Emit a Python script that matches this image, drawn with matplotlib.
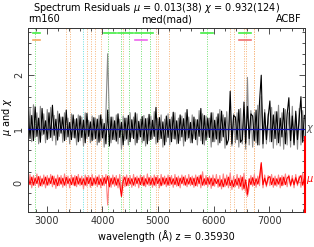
import numpy as np
import matplotlib
matplotlib.use('Agg')
import matplotlib.pyplot as plt
from matplotlib.ticker import MultipleLocator

plt.rcParams['font.family'] = ['DejaVu Sans']

# rest-frame wavelength grid (A)
wave = np.linspace(2670, 7630, 161)

chi = [1.32, 0.82, 1.25, 0.78, 1.41, 0.86, 1.20, 0.75, 1.38, 0.90,
       1.15, 0.80, 1.30, 0.84, 1.44, 0.88, 1.18, 0.79, 1.28, 0.92,
       1.22, 0.78, 1.35, 0.85, 1.12, 0.80, 1.26, 0.83, 1.19, 0.76,
       1.24, 0.84, 1.16, 0.74, 1.29, 0.86, 1.13, 0.78, 1.21, 0.82,
       1.18, 0.75, 1.26, 0.83, 1.10, 0.72, 1.35, 0.68, 1.22, 0.80,
       1.15, 0.77, 1.28, 0.84, 1.12, 0.70, 1.20, 0.81, 1.25, 0.76,
       1.17, 0.82, 1.30, 0.74, 1.14, 0.85, 1.23, 0.78, 1.19, 0.72,
       1.27, 0.80, 1.16, 0.86, 1.40, 0.75, 1.21, 0.82, 1.13, 0.70,
       1.24, 0.84, 1.18, 0.76, 1.31, 0.81, 1.15, 0.73, 1.26, 0.85,
       1.19, 0.77, 1.36, 0.83, 1.12, 0.74, 1.22, 0.80, 1.17, 0.86,
       1.38, 0.72, 1.25, 0.79, 1.20, 0.84, 1.30, 0.76, 1.16, 0.81,
       1.28, 0.74, 1.33, 0.85, 1.21, 0.70, 0.80, 1.70, 0.72, 1.25,
       1.22, 0.80, 1.36, 0.75, 0.80, 1.50, 0.73, 1.42, 0.82, 1.28,
       1.24, 0.78, 1.35, 0.70, 1.50, 2.00, 0.72, 1.30, 0.80, 1.22,
       1.52, 0.76, 1.26, 0.82, 1.32, 0.74, 1.20, 0.85, 1.38, 0.72,
       1.27, 1.58, 0.78, 1.24, 0.70, 1.33, 0.80, 1.21, 1.60, 0.75, 1.25]

chi_all = [0.80, 1.38, 0.76, 1.45, 0.84, 1.30, 0.72, 1.42, 0.88, 1.28,
           0.74, 1.36, 0.82, 1.40, 0.78, 1.25, 0.70, 1.33, 0.86, 1.22,
           0.75, 1.30, 0.80, 1.20, 0.72, 1.28, 0.84, 1.18, 0.70, 1.26,
           0.78, 1.22, 0.68, 1.30, 0.82, 1.16, 0.74, 1.24, 0.80, 1.20,
           0.70, 1.25, 0.78, 1.18, 0.66, 1.30, 2.40, 1.15, 0.74, 1.22,
           0.80, 1.26, 0.72, 1.18, 0.62, 1.24, 0.78, 1.20, 0.70, 1.30,
           0.84, 1.22, 0.70, 1.28, 0.80, 1.18, 0.74, 1.25, 0.68, 1.20,
           0.78, 1.24, 0.82, 1.32, 0.72, 1.20, 0.80, 1.26, 0.66, 1.18,
           0.76, 1.28, 0.70, 1.22, 0.82, 1.30, 0.72, 1.20, 0.78, 1.24,
           0.68, 1.30, 0.80, 1.22, 0.74, 1.26, 0.82, 1.18, 0.70, 1.34,
           0.78, 1.28, 0.70, 1.24, 0.84, 1.20, 0.66, 1.30, 0.76, 1.22,
           0.70, 1.36, 0.78, 1.26, 0.64, 1.32, 0.80, 1.40, 0.68, 1.28,
           0.74, 1.30, 0.66, 1.38, 0.72, 1.26, 0.62, 1.96, 0.70, 1.34,
           0.66, 1.30, 0.74, 1.44, 0.70, 1.60, 0.64, 1.36, 0.72, 1.28,
           0.76, 1.40, 0.64, 1.32, 0.70, 1.44, 0.68, 1.30, 0.62, 1.36,
           0.70, 1.30, 0.66, 1.42, 0.74, 1.28, 0.62, 1.38, 0.70, 1.34, 0.76]

mu = [0.09, -0.04, 0.10, -0.05, 0.08, -0.02, 0.11, -0.06, 0.07, -0.03,
      0.10, -0.05, 0.08, -0.02, 0.12, -0.04, 0.07, -0.06, 0.09, -0.03,
      0.08, -0.05, 0.10, -0.02, 0.07, -0.04, 0.09, -0.06, 0.11, -0.03,
      0.08, -0.04, 0.07, -0.05, 0.10, -0.02, 0.09, -0.06, 0.08, -0.03,
      0.10, -0.04, 0.07, -0.05, 0.09, -0.02, 0.12, -0.08, 0.08, -0.03,
      0.09, -0.05, 0.07, -0.04, -0.26, 0.02, 0.10, -0.06, 0.08, -0.03,
      0.07, -0.05, 0.09, -0.02, 0.08, -0.04, 0.10, -0.06, 0.07, -0.03,
      0.09, -0.04, 0.08, -0.05, 0.10, -0.02, 0.07, -0.06, 0.09, -0.03,
      0.08, -0.05, 0.10, -0.03, 0.07, -0.04, 0.09, -0.06, 0.08, -0.02,
      0.10, -0.05, 0.07, -0.03, 0.09, -0.04, 0.08, -0.06, 0.10, -0.02,
      0.14, -0.05, 0.07, -0.04, 0.09, -0.03, 0.08, -0.06, 0.07, -0.02,
      0.06, -0.07, 0.05, -0.08, 0.07, -0.05, 0.10, -0.06, 0.04, -0.08,
      0.06, -0.05, 0.08, -0.07, 0.10, -0.12, 0.05, -0.22, 0.07, -0.04,
      0.09, -0.05, 0.07, -0.03, 0.10, 0.37, -0.04, 0.08, -0.05, 0.09,
      0.11, -0.04, 0.08, -0.05, 0.07, -0.03, 0.09, -0.06, 0.10, -0.04,
      0.08, 0.12, -0.05, 0.07, -0.04, 0.09, -0.03, 0.08, 0.13, -0.05, 0.07]

mu_all = [-0.08, 0.15, -0.10, 0.13, -0.06, 0.16, -0.09, 0.12, -0.07, 0.14,
          -0.10, 0.13, -0.05, 0.15, -0.08, 0.12, -0.11, 0.14, -0.06, 0.13,
          -0.09, 0.16, -0.07, 0.12, -0.10, 0.14, -0.05, 0.13, -0.08, 0.15,
          -0.06, 0.12, -0.12, 0.14, -0.07, 0.13, -0.09, 0.15, -0.05, 0.12,
          -0.08, 0.14, -0.10, 0.13, -0.06, 0.15, -0.42, 0.12, -0.09, 0.14,
          -0.07, 0.13, -0.10, 0.15, -0.18, 0.12, -0.08, 0.14, -0.06, 0.13,
          -0.09, 0.15, -0.07, 0.12, -0.10, 0.14, -0.05, 0.13, -0.08, 0.16,
          -0.06, 0.12, -0.09, 0.14, -0.07, 0.13, -0.10, 0.15, -0.05, 0.12,
          -0.08, 0.14, -0.06, 0.13, -0.09, 0.15, -0.07, 0.12, -0.10, 0.14,
          -0.05, 0.13, -0.08, 0.15, -0.06, 0.12, -0.09, 0.14, -0.07, 0.13,
          -0.10, 0.20, -0.06, 0.13, -0.08, 0.12, -0.11, 0.14, -0.07, 0.15,
          -0.09, 0.13, -0.12, 0.16, -0.08, 0.14, -0.10, 0.18, -0.13, 0.12,
          -0.08, 0.15, -0.11, 0.13, -0.14, 0.17, -0.16, -0.26, -0.10, 0.13,
          -0.07, 0.15, -0.09, 0.12, -0.06, 0.34, -0.10, 0.14, -0.08, 0.13,
          -0.06, 0.15, -0.09, 0.12, -0.07, 0.14, -0.10, 0.13, -0.05, 0.16,
          -0.08, 0.14, -0.07, 0.13, -0.10, 0.15, -0.06, 0.12, -0.09, 0.17, -0.08]

# emission line markers
green_lines = [2798, 4102, 4340, 4471, 4686, 4861, 5876]
orange_lines = [3346, 3426, 3727, 3798, 3869, 3968, 4363, 4959, 5007, 5200,
                6300, 6364, 6548, 6583, 6716, 6731]
cyan_lines = [3650]

# fitting windows at top
green_windows = [(2754, 2880), (4030, 4245), (4281, 4551), (4587, 4911),
                 (5773, 5989), (6453, 6666)]
second_windows = [(2754, 2880), (4587, 4802), (6453, 6666)]
second_colors = ['#f4a860', '#ee66ee', '#f07070']

xmin, xmax = 2665, 7632
ymin, ymax = -0.55, 2.88

fig = plt.figure(figsize=(3.14, 2.47), dpi=100)
ax = fig.add_axes([28 / 314, 35 / 247, 276.5 / 314, 184 / 247])

for w in green_lines:
    ax.axvline(w, color='#70e070', ls=(0, (1, 1.5)), lw=0.7, zorder=1)
for w in orange_lines:
    ax.axvline(w, color='#f7b478', ls=(0, (1, 1.5)), lw=0.7, zorder=1)
for w in cyan_lines:
    ax.axvline(w, color='#66e0e0', ls=(0, (1, 1.5)), lw=0.7, zorder=1)

for a, b in green_windows:
    ax.plot([a, b], [2.79, 2.79], color='#44ee44', lw=1.2, zorder=3)
for (a, b), c in zip(second_windows, second_colors):
    ax.plot([a, b], [2.66, 2.66], color=c, lw=1.2, zorder=3)

ax.plot(wave, chi_all, color='#8a8a8a', lw=0.8, zorder=2)
ax.plot(wave, chi, color='black', lw=0.8, zorder=2)
ax.axhline(1.0, color='#1010b0', lw=0.9, zorder=4)
ax.plot(wave, mu_all, color='#ff8080', lw=0.8, zorder=2)
ax.plot(wave, mu, color='#ff0000', lw=0.8, zorder=2)

ax.plot([xmax, xmax], [ymin, 0.85], color='red', lw=1.5, clip_on=False, zorder=5)

ax.set_xlim(xmin, xmax)
ax.set_ylim(ymin, ymax)
ax.xaxis.set_major_locator(MultipleLocator(1000))
ax.xaxis.set_minor_locator(MultipleLocator(200))
ax.yaxis.set_major_locator(MultipleLocator(1))
ax.yaxis.set_minor_locator(MultipleLocator(0.2))
ax.tick_params(which='both', direction='in', top=True, right=True, labelsize=7,
               width=0.6, colors='#333333')
ax.tick_params(which='major', length=4)
ax.tick_params(which='minor', length=2)
ax.tick_params(axis='x', pad=3)
ax.tick_params(axis='y', pad=3)
for lab in ax.get_yticklabels():
    lab.set_rotation(90)
    lab.set_va('center')
for s in ax.spines.values():
    s.set_linewidth(0.7)
    s.set_color('#333333')

ax.set_xlabel('wavelength (Å) z = 0.35930', fontsize=7, labelpad=3)
ax.set_ylabel(r'$\mu$ and $\chi$', fontsize=7, va='center')
ax.yaxis.set_label_coords(-0.076, 0.52)

fig.text(0.5, 1 - 8 / 247, r'Spectrum Residuals $\mu$ = 0.013(38) $\chi$ = 0.932(124)',
         ha='center', va='center', fontsize=7)
ax.text(0.0, 1.02, 'rm160', transform=ax.transAxes, ha='left', va='bottom', fontsize=7)
ax.text(0.5, 1.02, 'med(mad)', transform=ax.transAxes, ha='center', va='bottom', fontsize=7)
ax.text(0.99, 1.02, 'ACBF', transform=ax.transAxes, ha='right', va='bottom', fontsize=7)

ax.text(xmax + 30, 1.0, r'$\chi$', ha='left', va='center', fontsize=7, color='#555555',
        clip_on=False)
ax.text(xmax + 30, 0.05, r'$\mu$', ha='left', va='center', fontsize=7, color='red',
        clip_on=False)

fig.savefig('out.png', dpi=100)
